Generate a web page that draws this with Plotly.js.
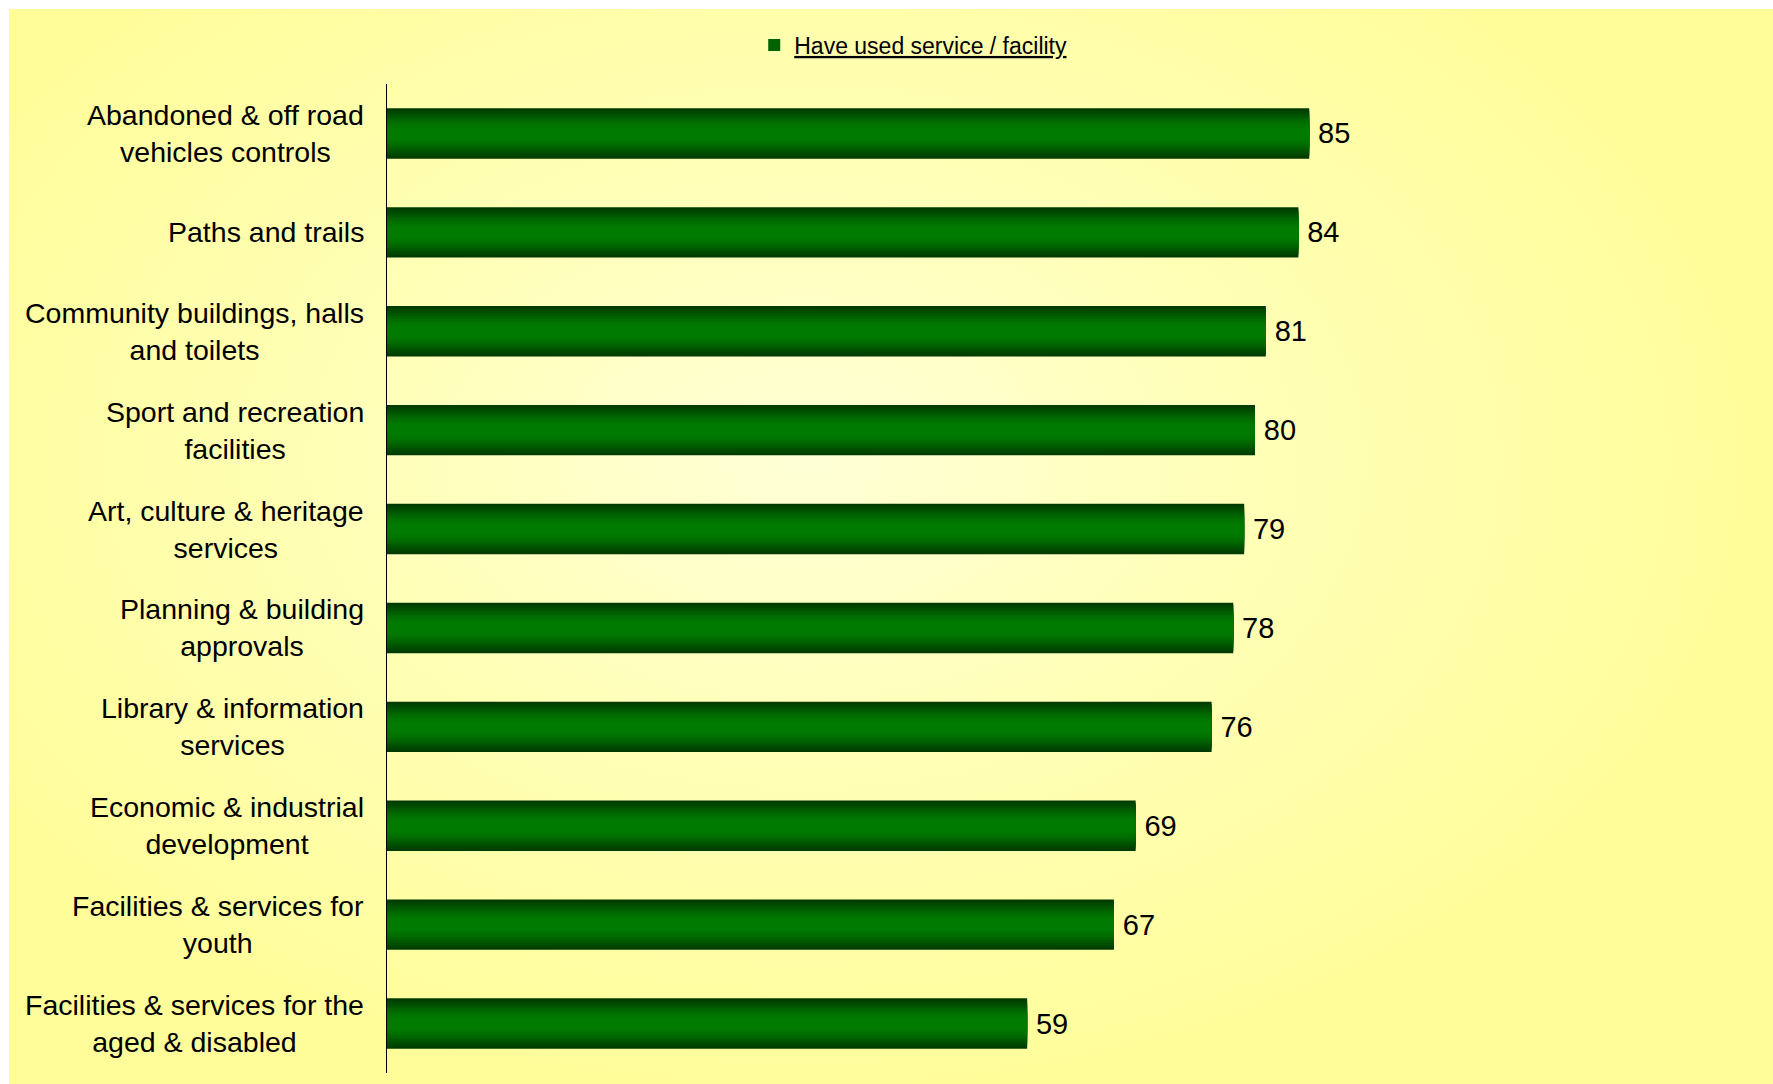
<!DOCTYPE html>
<html>
<head>
<meta charset="utf-8">
<script src="https://cdn.plot.ly/plotly-3.0.1.min.js"></script>
<style>
  html, body { margin: 0; padding: 0; background: #ffffff; }
  #bg { position: absolute; left: 9px; top: 9px; width: 1764px; height: 1075px;
        background: radial-gradient(ellipse 55% 60% at 45% 42%, #FFFFD6 0%, #FFFFB8 45%, #FFFD99 100%); }
  #chart { position: absolute; left: 0; top: 0; width: 1773px; height: 1084px; }
</style>
</head>
<body>
<div id="bg"></div>
<div id="chart"></div>
<script>
// ---- data ----
const categories = [
  "Abandoned & off road vehicles controls",
  "Paths and trails",
  "Community buildings, halls and toilets",
  "Sport and recreation facilities",
  "Art, culture & heritage services",
  "Planning & building approvals",
  "Library & information services",
  "Economic & industrial development",
  "Facilities & services for youth",
  "Facilities & services for the aged & disabled"
];
const tickLabels = [
  "Abandoned & off road<br>vehicles controls",
  "Paths and trails",
  "Community buildings, halls<br>and toilets",
  "Sport and recreation<br>facilities",
  "Art, culture & heritage<br>services",
  "Planning & building<br>approvals",
  "Library & information<br>services",
  "Economic & industrial<br>development",
  "Facilities & services for<br>youth",
  "Facilities & services for the<br>aged & disabled"
];
const values = [85, 84, 81, 80, 79, 78, 76, 69, 67, 59];
const seriesName = "Have used service / facility";

// ---- gradient layers (overlay bars, outer dark to inner bright) ----
const layerWidths = [0.51, 0.46, 0.41, 0.36, 0.31, 0.26, 0.21, 0.16, 0.11];
const layerColors = ["#003C00", "#004500", "#004F00", "#005900", "#006200", "#006B00", "#007200", "#007700", "#007A00"];

const FONT = "Liberation Sans, Arial, sans-serif";

const traces = layerWidths.map((w, i) => ({
  type: "bar",
  orientation: "h",
  x: values,
  y: categories,
  width: w,
  marker: { color: layerColors[i], line: { width: 0 } },
  name: "<u>" + seriesName + "</u>",
  showlegend: i === 4,
  text: i === 0 ? values.map(v => "\u2009" + v) : undefined,
  textposition: i === 0 ? "outside" : "none",
  cliponaxis: false,
  textfont: { family: FONT, size: 29, color: "#000000" },
  hoverinfo: "x+y"
}));

const annotations = categories.map((c, i) => ({
  xref: "paper", yref: "y",
  x: 0, y: c,
  xanchor: "right", yanchor: "middle",
  xshift: -21,
  align: "center",
  showarrow: false,
  text: tickLabels[i],
  font: { family: FONT, size: 28.5, color: "#000000" }
}));

const layout = {
  width: 1773, height: 1084,
  paper_bgcolor: "rgba(0,0,0,0)",
  plot_bgcolor: "rgba(0,0,0,0)",
  margin: { l: 387, r: 301, t: 84, b: 11, pad: 0 },
  barmode: "overlay",
  font: { family: FONT, color: "#000000" },
  xaxis: { range: [0, 100], visible: false, fixedrange: true },
  yaxis: {
    type: "category",
    autorange: "reversed",
    showticklabels: false,
    ticks: "",
    showgrid: false,
    zeroline: false,
    showline: true,
    linecolor: "#000000",
    linewidth: 1.5
  },
  showlegend: true,
  legend: {
    orientation: "h",
    x: 0.485, xanchor: "center",
    yref: "container", y: 1 - 45 / 1084, yanchor: "middle",
    bgcolor: "rgba(0,0,0,0)",
    font: { family: FONT, size: 23, color: "#000000" },
    itemwidth: 30
  },
  annotations: annotations
};

Plotly.newPlot("chart", traces, layout, { displayModeBar: false, staticPlot: true });
</script>
</body>
</html>
